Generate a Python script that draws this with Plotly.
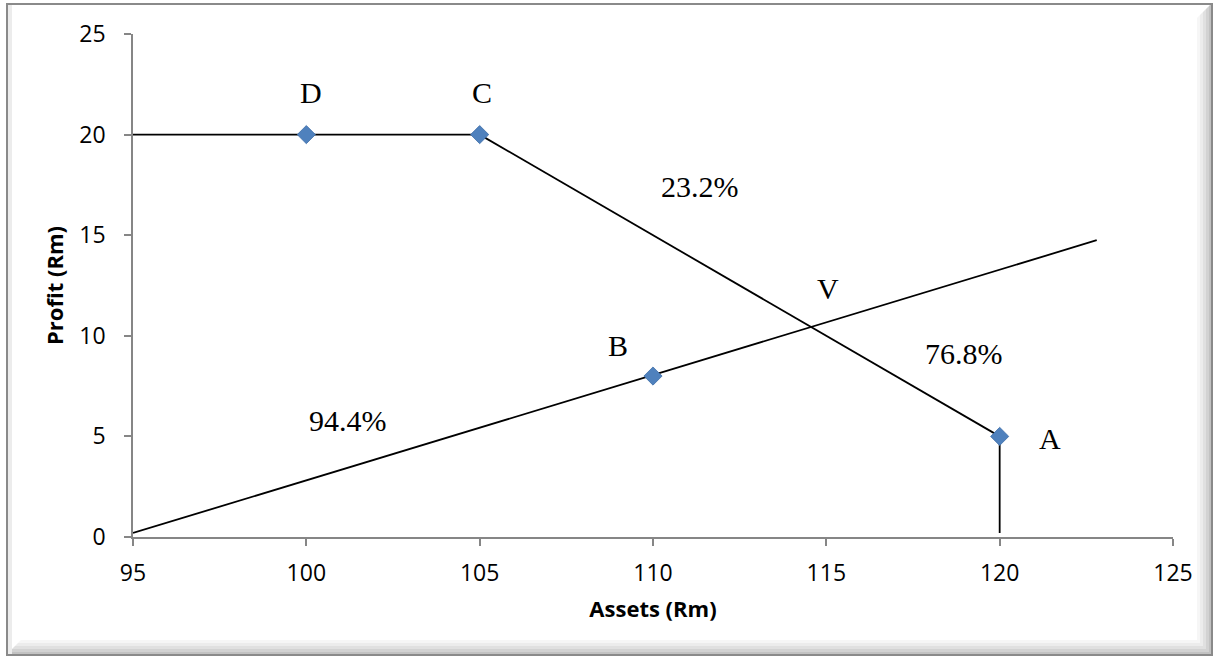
import plotly.graph_objects as go

# ---- data ----
point_names = ["A", "B", "C", "D"]
point_assets = [120, 110, 105, 100]
point_profit = [5, 8, 20, 20]

flat_x = [95, 105]
flat_y = [20, 20]
falling_x = [105, 120]
falling_y = [20, 5]
drop_x = [120, 120]
drop_y = [5, 0.2]
rising_x = [95, 122.8]
rising_y = [0.2, 14.75]

label_text = ["D", "C", "23.2%", "V", "76.8%", "B", "94.4%", "A"]
label_x = [100.13, 105.07, 111.35, 115.05, 118.97, 108.99, 101.19, 121.45]
label_y = [22.1, 22.1, 17.4, 12.33, 9.1, 9.54, 5.77, 4.9]

x_ticks = [95, 100, 105, 110, 115, 120, 125]
y_ticks = [0, 5, 10, 15, 20, 25]

W, H = 1215, 657
L, R, T, B = 133, 42, 34, 120
PW, PH = W - L - R, H - T - B


def px(xp):
    return (xp - L) / PW


def py(yp):
    return (H - B - yp) / PH


fig = go.Figure()
line_style = dict(color="black", width=1.8)
for xs, ys in [(flat_x, flat_y), (falling_x, falling_y), (drop_x, drop_y), (rising_x, rising_y)]:
    fig.add_trace(go.Scatter(x=xs, y=ys, mode="lines", line=line_style,
                             hoverinfo="skip", showlegend=False))

fig.add_trace(go.Scatter(x=point_assets, y=point_profit, mode="markers",
                         text=point_names,
                         marker=dict(symbol="diamond", size=14, color="#4F81BD",
                                     line=dict(width=0.8, color="#3f6ea8")),
                         showlegend=False))

for t, xv, yv in zip(label_text, label_x, label_y):
    fig.add_annotation(x=xv, y=yv, text=t, showarrow=False,
                       xanchor="center", yanchor="middle",
                       font=dict(family="Liberation Serif, Times New Roman, serif",
                                 size=30, color="black"))

# chart frame with bevel shading
shapes = []
fx0, fx1, fy0, fy1 = 7, 1212, 4, 655
bevel = ["#f6f6f6", "#ececec", "#e0e0e0", "#d2d2d2", "#c2c2c2"]
step = 3
for i, c in enumerate(bevel):
    xa = fx1 - (len(bevel) - i) * step
    xb = xa + step
    shapes.append(dict(type="path", xref="paper", yref="paper",
                       path=f"M {px(xa)} {py(fy0 + 14 - i*step)} L {px(xb)} {py(fy0 + 14 - (i+1)*step)} "
                            f"L {px(xb)} {py(fy1)} L {px(xa)} {py(fy1)} Z",
                       fillcolor=c, line=dict(width=0), layer="below"))
    ya = fy1 - (len(bevel) - i) * step
    yb = ya + step
    shapes.append(dict(type="path", xref="paper", yref="paper",
                       path=f"M {px(fx0 + 14 - i*step)} {py(ya)} L {px(fx1)} {py(ya)} "
                            f"L {px(fx1)} {py(yb)} L {px(fx0 + 14 - (i+1)*step)} {py(yb)} Z",
                       fillcolor=c, line=dict(width=0), layer="below"))
shapes.append(dict(type="rect", xref="paper", yref="paper",
                   x0=px(fx0), x1=px(fx0 + 5), y0=py(fy1), y1=py(fy0),
                   fillcolor="#ececec", line=dict(width=0), layer="below"))
shapes.append(dict(type="rect", xref="paper", yref="paper",
                   x0=px(fx0), x1=px(fx1), y0=py(fy1), y1=py(fy0),
                   line=dict(color="#8a8a8a", width=2), fillcolor="rgba(0,0,0,0)",
                   layer="below"))

axis_font = dict(family="Open Sans, Noto Sans, sans-serif", size=23, color="black")
title_font = dict(family="Open Sans, Noto Sans, sans-serif", size=22, color="black")

fig.update_layout(
    width=W, height=H,
    margin=dict(l=L, r=R, t=T, b=B, pad=0),
    paper_bgcolor="white", plot_bgcolor="white",
    shapes=shapes,
    xaxis=dict(range=[95, 125], tickvals=x_ticks, showgrid=False, zeroline=False,
               showline=True, linecolor="#868686", linewidth=1.5,
               ticks="outside", ticklen=7, tickcolor="#868686", tickwidth=1.5,
               tickfont=axis_font, ticklabelstandoff=8,
               title=dict(text="<b>Assets (Rm)</b>", font=title_font, standoff=14)),
    yaxis=dict(range=[0, 25], tickvals=y_ticks, showgrid=False, zeroline=False,
               showline=True, linecolor="#868686", linewidth=1.5,
               ticks="outside", ticklen=7, tickcolor="#868686", tickwidth=1.5,
               tickfont=axis_font, ticklabelstandoff=14,
               title=dict(text="<b>Profit (Rm)</b>", font=title_font, standoff=10)),
)

fig.write_html("out.html", config={"displayModeBar": False},
               post_script="document.body.style.margin='0';")
